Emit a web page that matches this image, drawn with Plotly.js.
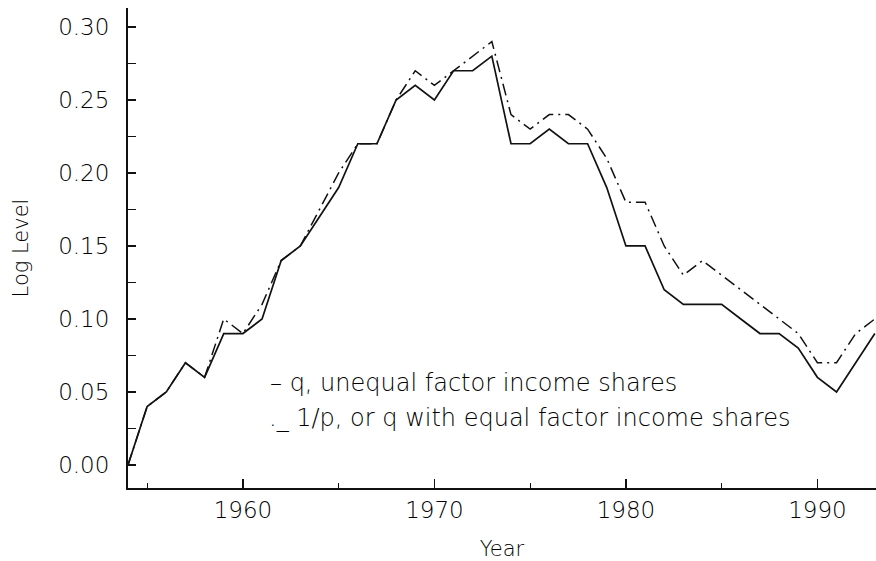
<!DOCTYPE html>
<html>
<head>
<meta charset="utf-8">
<script src="https://cdn.plot.ly/plotly-3.0.1.min.js"></script>
<style>html,body{margin:0;padding:0;background:#fff;}#chart{width:876px;height:561px;}</style>
</head>
<body>
<div id="chart"></div>
<script>
const years = [1954,1955,1956,1957,1958,1959,1960,1961,1962,1963,1964,1965,1966,1967,1968,1969,1970,1971,1972,1973,1974,1975,1976,1977,1978,1979,1980,1981,1982,1983,1984,1985,1986,1987,1988,1989,1990,1991,1992,1993];
const qUnequal = [0.00,0.04,0.05,0.07,0.06,0.09,0.09,0.10,0.14,0.15,0.17,0.19,0.22,0.22,0.25,0.26,0.25,0.27,0.27,0.28,0.22,0.22,0.23,0.22,0.22,0.19,0.15,0.15,0.12,0.11,0.11,0.11,0.10,0.09,0.09,0.08,0.06,0.05,0.07,0.09];
const invP = [0.00,0.04,0.05,0.07,0.06,0.10,0.09,0.11,0.14,0.15,0.175,0.20,0.22,0.22,0.25,0.27,0.26,0.27,0.28,0.29,0.24,0.23,0.24,0.24,0.23,0.21,0.18,0.18,0.15,0.13,0.14,0.13,0.12,0.11,0.10,0.09,0.07,0.07,0.09,0.10];
const legendLines = ["\u2013 q, unequal factor income shares", "._ 1/p, or q with equal factor income shares"];
const yTickVals = [0,0.05,0.10,0.15,0.20,0.25,0.30];
const yTickText = ["0.00","0.05","0.10","0.15","0.20","0.25","0.30"];
const xTickVals = [1960,1970,1980,1990];

const FONT = "'DejaVu Sans', Lato, sans-serif";
const W = 300;
const TXT = '#000';
const traces = [
  {x: years, y: invP, mode: 'lines', line: {color: '#111', width: 1.5, dash: '12px,5px,2px,5px'}, hoverinfo: 'skip'},
  {x: years, y: qUnequal, mode: 'lines', line: {color: '#111', width: 1.7}, hoverinfo: 'skip'}
];
const layout = {
  width: 876, height: 561,
  margin: {l: 128, r: 0, t: 8, b: 73},
  paper_bgcolor: '#fff', plot_bgcolor: '#fff',
  showlegend: false,
  font: {family: FONT, color: TXT, size: 22, weight: W},
  xaxis: {
    range: [1954, 1993.06], showgrid: false, zeroline: false,
    showline: true, linecolor: '#111', linewidth: 2,
    ticks: 'inside', tickvals: xTickVals, ticklen: 9, tickwidth: 1.2, tickcolor: '#111',
    minor: {ticks: 'inside', dtick: 5, tick0: 1955, ticklen: 5, tickwidth: 1.2, tickcolor: '#111', showgrid: false},
    tickfont: {size: 23, color: TXT, family: FONT, weight: W},
    title: {text: 'Year', font: {size: 21, color: TXT, family: FONT, weight: W}, standoff: 20}
  },
  yaxis: {
    range: [-0.0158, 0.313], showgrid: false, zeroline: false,
    showline: true, linecolor: '#111', linewidth: 2,
    ticks: 'inside', tickvals: yTickVals, ticktext: yTickText, ticklen: 8, tickwidth: 1.2, tickcolor: '#111',
    minor: {ticks: 'inside', dtick: 0.025, tick0: 0, ticklen: 8, tickwidth: 1.2, tickcolor: '#111', showgrid: false},
    tickfont: {size: 23, color: TXT, family: FONT, weight: W},
    ticklabelstandoff: 12,
    title: {text: 'Log Level', font: {size: 21, color: TXT, family: FONT, weight: W}, standoff: 24}
  },
  annotations: [
    {xref: 'paper', yref: 'paper', x: 0.187, y: 0.219, xanchor: 'left', yanchor: 'middle', showarrow: false, text: legendLines[0], font: {size: 24, color: TXT, family: FONT, weight: W}},
    {xref: 'paper', yref: 'paper', x: 0.186, y: 0.146, xanchor: 'left', yanchor: 'middle', showarrow: false, text: legendLines[1], font: {size: 24, color: TXT, family: FONT, weight: W}}
  ]
};
Plotly.newPlot('chart', traces, layout, {staticPlot: true, displayModeBar: false});
</script>
</body>
</html>
